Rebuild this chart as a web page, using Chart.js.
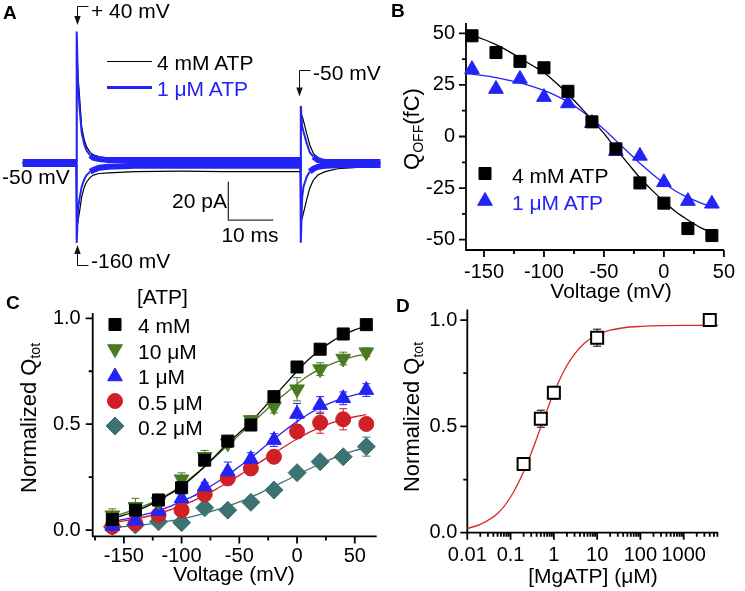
<!DOCTYPE html>
<html>
<head>
<meta charset="utf-8">
<script src="https://cdn.jsdelivr.net/npm/chart.js@4.4.1/dist/chart.umd.min.js"></script>
<style>
  body { margin: 0; background: #fff; }
  #fig { position: relative; width: 745px; height: 591px; overflow: hidden; font-family: "Liberation Sans", Arial, sans-serif; color: #000; }
  #fig canvas { position: absolute; left: 0; top: 0; }
  .t { position: absolute; white-space: nowrap; font-size: 21px; line-height: 1; transform: translateY(-50%); }
  .c { transform: translate(-50%, -50%); }
  .r { transform: translate(-100%, -50%); }
  .v { transform: translate(-50%, -50%) rotate(-90deg); font-size: 22px; }
  .p { font-weight: bold; font-size: 19px; }
  .blue { color: #2323f5; }
  sub { font-size: 14px; vertical-align: -4px; line-height: 0; }
</style>
</head>
<body>
<div id="fig">
  <canvas id="chartA" width="745" height="591"></canvas>
  <canvas id="chartB" width="745" height="591"></canvas>
  <canvas id="chartC" width="745" height="591"></canvas>
  <canvas id="chartD" width="745" height="591"></canvas>

  <div class="t p" style="left:3px;top:11.5px">A</div>
  <div class="t p" style="left:391px;top:10px">B</div>
  <div class="t p" style="left:6px;top:301.5px">C</div>
  <div class="t p" style="left:396px;top:305px">D</div>

  <!-- panel A -->
  <div class="t" style="left:91px;top:9.5px">+ 40 mV</div>
  <div class="t" style="left:91px;top:260px">-160 mV</div>
  <div class="t" style="left:313px;top:72px">-50 mV</div>
  <div class="t" style="left:2px;top:176px">-50 mV</div>
  <div class="t" style="left:157px;top:62px">4 mM ATP</div>
  <div class="t blue" style="left:157px;top:88px">1 μM ATP</div>
  <div class="t r" style="left:227px;top:200px">20 pA</div>
  <div class="t c" style="left:250px;top:234px">10 ms</div>

  <!-- panel B -->
  <div class="t" style="left:512px;top:175px">4 mM ATP</div>
  <div class="t blue" style="left:512px;top:202px">1 μM ATP</div>
  <div class="t c" style="left:611px;top:290px">Voltage (mV)</div>
  <div class="t v" style="left:412px;top:129px">Q<sub>OFF</sub>(fC)</div>

  <!-- panel C -->
  <div class="t" style="left:137px;top:295.5px">[ATP]</div>
  <div class="t" style="left:138px;top:325px">4 mM</div>
  <div class="t" style="left:138px;top:351px">10 μM</div>
  <div class="t" style="left:138px;top:376px">1 μM</div>
  <div class="t" style="left:138px;top:401.5px">0.5 μM</div>
  <div class="t" style="left:138px;top:426.5px">0.2 μM</div>
  <div class="t c" style="left:234px;top:573px">Voltage (mV)</div>
  <div class="t v" style="left:29px;top:418px">Normalized Q<sub>tot</sub></div>

  <!-- panel D -->
  <div class="t c" style="left:593px;top:575px">[MgATP] (μM)</div>
  <div class="t v" style="left:412px;top:417px">Normalized Q<sub>tot</sub></div>
</div>

<script>
// ---------- panel A: current traces (time in ms, current in pA) ----------
const traceTime = [0, 11.9, 12.0, 12.3, 12.6, 13.1, 13.7, 14.2, 15, 15.7, 17, 19, 25, 35, 45, 55, 61.7, 61.8, 62.1, 62.4, 63.1, 63.8, 64.6, 65.6, 67.2, 70, 75, 79.5];
const blue40    = [0.5, 0.5, 68.6, 40, 30, 16, 9.5, 6.5, 4, 2.8, 2, 1.5, 1.5, 1.5, 1.5, 1.5, 1.5, -41.6, -18, -12.4, -7.3, -4.5, -3, -2, -1.5, -1.2, -1, -1];
const blueM160  = [-0.5, -0.5, -41.8, -24, -19, -12.5, -8.5, -6.3, -4.5, -3.7, -2.5, -2, -1.5, -1.5, -1.5, -1.5, -1.5, 29.8, 19, 16.3, 10.5, 5.5, 3.3, 1.5, 0.5, 0.5, 0.5, 0.5];
const black40   = [0, 0, 60, 45, 36, 18.8, 12, 8.4, 5.5, 4.2, 3.2, 2.6, 2, 2, 2, 2, 2, -29.8, -29, -26, -19.3, -13, -8.9, -6.3, -4.5, -3, -2.2, -2];
const blackM160 = [0, 0, -35, -30, -26, -17.8, -12.5, -9.9, -7.5, -6.3, -5.5, -5.2, -4.5, -4.3, -4.5, -4.5, -4.5, 25, 24.5, 22, 15.5, 9.4, 5, 1.6, 0.5, 0.5, 0.5, 0.5];
const scaleBarT = [45.7, 45.7, 55.7];
const scaleBarI = [-9.8, -29.8, -29.8];
const pulseOn = 12, pulseOff = 61.8;

// ---------- panel B: Q_OFF vs voltage ----------
const voltB = [-160, -140, -120, -100, -80, -60, -40, -20, 0, 20, 40];
const qOff4mM = [48.8, 40.7, 36.4, 33.3, 21.9, 7.1, -6.0, -22.5, -32.3, -44.6, -48.0];
const qOff1uM = [32.6, 23, 27.9, 19.1, 16, 6.5, -7.1, -9.4, -22.2, -31.3, -32.6];
const fitVoltB = [-165, -160, -150, -140, -130, -120, -110, -100, -90, -80, -70, -60, -50, -40, -30, -20, -10, 0, 10, 20, 30, 40];
const fitB4mM = [49.5, 49, 47, 44.5, 41.5, 38, 34.5, 31, 26, 20.5, 14.5, 8, 1.5, -6, -13, -20, -26, -31.5, -36.5, -40.5, -44, -46.5];
const fitB1uM = [30.5, 30.2, 29.5, 28.5, 27.3, 26, 24.3, 22.3, 19.8, 16.8, 13, 8.5, 3.5, -2, -7.5, -13, -18, -22.5, -26.5, -29.5, -32, -34];

// ---------- panel C: normalized Q_tot vs voltage ----------
const voltC = [-160, -140, -120, -100, -80, -60, -40, -20, 0, 20, 40, 60];
const q4mM  = [0.05, 0.094, 0.142, 0.2, 0.33, 0.42, 0.496, 0.63, 0.77, 0.854, 0.926, 0.97];
const q10uM = [0.07, 0.11, 0.134, 0.24, 0.346, 0.41, 0.52, 0.583, 0.665, 0.76, 0.81, 0.84];
const q1uM  = [0.019, 0.044, 0.09, 0.15, 0.205, 0.276, 0.335, 0.425, 0.548, 0.59, 0.622, 0.661];
const q05uM = [0.016, 0.031, 0.071, 0.094, 0.168, 0.244, 0.291, 0.346, 0.465, 0.507, 0.523, 0.501];
const q02uM = [0.016, 0.024, 0.039, 0.035, 0.105, 0.094, 0.131, 0.189, 0.271, 0.323, 0.346, 0.394];
const e4mM  = [0.01, 0.02, 0.01, 0.02, 0.02, 0.015, 0.02, 0.02, 0.015, 0.015, 0.015, 0.01];
const e10uM = [0.03, 0.04, 0.02, 0.03, 0.03, 0.02, 0.02, 0.03, 0.055, 0.03, 0.03, 0.02];
const e1uM  = [0.015, 0.02, 0.02, 0.02, 0.02, 0.045, 0.03, 0.03, 0.05, 0.04, 0.03, 0.03];
const e05uM = [0.015, 0.02, 0.02, 0.03, 0.02, 0.03, 0.03, 0.03, 0.03, 0.05, 0.05, 0.02];
const e02uM = [0.01, 0.01, 0.01, 0.01, 0.015, 0.015, 0.015, 0.015, 0.02, 0.02, 0.02, 0.045];
const fitVoltC = [-160, -150, -140, -130, -120, -110, -100, -90, -80, -70, -60, -50, -40, -30, -20, -10, 0, 10, 20, 30, 40, 50, 60];
const fitC4mM  = [0.055, 0.07, 0.09, 0.112, 0.14, 0.17, 0.205, 0.25, 0.3, 0.355, 0.41, 0.46, 0.51, 0.57, 0.63, 0.69, 0.75, 0.805, 0.85, 0.89, 0.92, 0.945, 0.965];
const fitC10uM = [0.065, 0.08, 0.1, 0.12, 0.145, 0.175, 0.21, 0.255, 0.3, 0.35, 0.4, 0.45, 0.5, 0.55, 0.6, 0.645, 0.69, 0.73, 0.76, 0.785, 0.805, 0.82, 0.83];
const fitC1uM  = [0.04, 0.05, 0.062, 0.076, 0.092, 0.112, 0.135, 0.16, 0.19, 0.223, 0.26, 0.3, 0.34, 0.385, 0.43, 0.472, 0.512, 0.548, 0.578, 0.603, 0.623, 0.638, 0.65];
const fitC05uM = [0.035, 0.043, 0.053, 0.064, 0.078, 0.095, 0.115, 0.138, 0.164, 0.193, 0.225, 0.258, 0.293, 0.328, 0.363, 0.397, 0.43, 0.46, 0.485, 0.506, 0.522, 0.535, 0.545];
const fitC02uM = [0.012, 0.016, 0.021, 0.027, 0.034, 0.043, 0.053, 0.065, 0.079, 0.095, 0.113, 0.133, 0.155, 0.18, 0.206, 0.233, 0.26, 0.287, 0.312, 0.336, 0.357, 0.375, 0.39];

// ---------- panel D: Q_tot vs [MgATP] ----------
const mgAtp = [0.2, 0.5, 1, 10, 4000];
const qNormD = [0.323, 0.536, 0.658, 0.917, 1.0];
const eD = [0.015, 0.04, 0.03, 0.04, 0];
const fitMgAtp = [0.01, 0.02, 0.05, 0.1, 0.2, 0.3, 0.5, 0.7, 1, 2, 3, 5, 10, 20, 50, 100, 1000, 6300];
const fitQD = [0.02, 0.039, 0.09, 0.168, 0.287, 0.375, 0.497, 0.578, 0.659, 0.786, 0.84, 0.89, 0.93, 0.952, 0.966, 0.97, 0.975, 0.975];

// tick positions
const voltLabels = [-150, -100, -50, 0, 50];
const bVoltMinor = [-125, -75, -25, 25];
const cVoltMinor = [-175, -125, -75, -25, 25];
const qOffLabels = [-50, -25, 0, 25, 50];
const qOffMinor = [-37.5, -12.5, 12.5, 37.5];
const normLabels = [0, 0.5, 1.0];
const normMinor = [0.25, 0.75];
const decades = [0.01, 0.1, 1, 10, 100, 1000];
const decadeMinor = [];
decades.forEach(d => { for (let k = 2; k <= 9; k++) if (d * k < 6300) decadeMinor.push(d * k); });

const BLUE = '#2323f5', GREEN = '#4a7a22', RED = '#d02025', TEAL = '#3d7272';

Chart.defaults.font.family = '"Liberation Sans", Arial, sans-serif';
Chart.defaults.font.size = 20;
Chart.defaults.color = '#000';
Chart.defaults.animation = false;

const pts = (xs, ys) => xs.map((x, i) => ({ x, y: ys[i] }));

function trace(vals, color, noisy, order) {
  const ds = { data: pts(traceTime, vals), showLine: true, borderColor: color, pointRadius: 0,
    borderWidth: noisy ? 2 : 1.2, order, clip: false };
  if (noisy) ds.segment = { borderWidth: c =>
    (Math.abs(vals[c.p0DataIndex]) < 5 && Math.abs(vals[c.p1DataIndex]) < 5) ? 6 : 2 };
  return ds;
}
function marks(xs, ys, color, style, r, errs, order, rot) {
  return { data: pts(xs, ys), errors: errs, backgroundColor: color, borderColor: color,
    pointStyle: style, pointRadius: r, pointRotation: rot || 0, pointBorderWidth: 1, order, clip: false };
}
function fit(xs, ys, color) {
  return { data: pts(xs, ys), showLine: true, borderColor: color, borderWidth: 1.3, pointRadius: 0,
    cubicInterpolationMode: 'monotone', order: 10, clip: false };
}
function axis(type, min, max, labels, fmt, pad, isY) {
  return {
    type, min, max,
    grid: { display: false, drawTicks: false },
    border: { display: false },
    ticks: { autoSkip: false, maxRotation: 0, padding: pad, callback: fmt },
    afterBuildTicks: s => { s.ticks = labels.map(v => ({ value: v })); },
    afterFit: s => { if (isY) s.width = 40; else s.height = 30; }
  };
}
function arrow(ctx, x, yStart, yTip) {
  const dir = yTip > yStart ? 1 : -1;
  ctx.beginPath(); ctx.moveTo(x + 11, yStart); ctx.lineTo(x, yStart); ctx.lineTo(x, yTip - dir * 6); ctx.stroke();
  ctx.beginPath(); ctx.moveTo(x - 3.2, yTip - dir * 9); ctx.lineTo(x + 3.2, yTip - dir * 9); ctx.lineTo(x, yTip); ctx.closePath(); ctx.fill();
}

const annotA = {
  id: 'annotA',
  afterDatasetsDraw(chart) {
    const { ctx, scales: { x } } = chart;
    const xOn = Math.round(x.getPixelForValue(pulseOn)) + 0.5;
    const xOff = Math.round(x.getPixelForValue(pulseOff)) - 1.5;
    ctx.save();
    ctx.strokeStyle = '#111'; ctx.fillStyle = '#111'; ctx.lineWidth = 1;
    arrow(ctx, xOn, 6.5, 25);
    arrow(ctx, xOn, 265.5, 245);
    arrow(ctx, xOff, 70.5, 96.5);
    ctx.beginPath(); ctx.moveTo(107, 61.5); ctx.lineTo(152, 61.5); ctx.strokeStyle = '#000'; ctx.stroke();
    ctx.beginPath(); ctx.moveTo(107, 87.5); ctx.lineTo(152, 87.5); ctx.lineWidth = 3; ctx.strokeStyle = BLUE; ctx.stroke();
    ctx.restore();
  }
};

function deco(tk, legendMarks) {
  return {
    id: 'deco',
    beforeDatasetsDraw(chart) {
      const { ctx, chartArea: a, scales: { x, y } } = chart;
      ctx.save();
      ctx.strokeStyle = '#000'; ctx.lineWidth = 1.8;
      ctx.beginPath();
      ctx.moveTo(a.left, a.top); ctx.lineTo(a.left, a.bottom); ctx.lineTo(a.right, a.bottom);
      const tick = (list, len, horiz) => list.forEach(v => {
        const p = (horiz ? x : y).getPixelForValue(v);
        if (horiz) { ctx.moveTo(p, a.bottom); ctx.lineTo(p, a.bottom + len); }
        else { ctx.moveTo(a.left, p); ctx.lineTo(a.left - len, p); }
      });
      tick(tk.xMajor, 7, true); tick(tk.xMinor, 4, true);
      tick(tk.yMajor, 7, false); tick(tk.yMinor, 4, false);
      ctx.stroke();
      chart.data.datasets.forEach(ds => {
        if (!ds.errors) return;
        ctx.strokeStyle = ds.borderColor; ctx.lineWidth = 1;
        ctx.beginPath();
        ds.data.forEach((d, j) => {
          const e = ds.errors[j]; if (!e) return;
          const px = x.getPixelForValue(d.x), y1 = y.getPixelForValue(d.y + e), y2 = y.getPixelForValue(d.y - e);
          ctx.moveTo(px, y1); ctx.lineTo(px, y2);
          ctx.moveTo(px - 4, y1); ctx.lineTo(px + 4, y1);
          ctx.moveTo(px - 4, y2); ctx.lineTo(px + 4, y2);
        });
        ctx.stroke();
      });
      ctx.restore();
    },
    afterDatasetsDraw(chart) {
      const ctx = chart.ctx;
      legendMarks.forEach(m => {
        ctx.save();
        ctx.fillStyle = m.color; ctx.strokeStyle = m.color; ctx.lineWidth = 1;
        Chart.helpers.drawPoint(ctx, { pointStyle: m.style, radius: m.r, rotation: m.rot || 0, borderWidth: 1 }, m.x, m.y);
        ctx.restore();
      });
    }
  };
}

const baseOpts = (padding, scales) => ({
  responsive: false, events: [],
  layout: { autoPadding: false, padding },
  scales,
  plugins: { legend: { display: false }, tooltip: { enabled: false } }
});

// ---------- A ----------
new Chart(document.getElementById('chartA'), {
  type: 'scatter',
  data: { datasets: [
    trace(blue40, BLUE, true, 1),
    trace(blueM160, BLUE, true, 1),
    trace(black40, '#000', false, 2),
    trace(blackM160, '#000', false, 2),
    { data: pts(scaleBarT, scaleBarI), showLine: true, borderColor: '#333', borderWidth: 1.3, pointRadius: 0, order: 3 }
  ] },
  options: baseOpts({ left: 0, top: 0, right: 365, bottom: 311 }, {
    x: { type: 'linear', display: false, min: -5.04, max: 79.4 },
    y: { type: 'linear', display: false, min: -61.1, max: 85.1 }
  }),
  plugins: [annotA]
});

// ---------- B ----------
new Chart(document.getElementById('chartB'), {
  type: 'scatter',
  data: { datasets: [
    marks(voltB, qOff4mM, '#000', 'rect', 8.5, null, 1),
    marks(voltB, qOff1uM, BLUE, 'triangle', 8.5, null, 2),
    fit(fitVoltB, fitB4mM, '#000'),
    fit(fitVoltB, fitB1uM, BLUE)
  ] },
  options: baseOpts({ left: 426, top: 12.5, right: 12, bottom: 311 }, {
    x: axis('linear', -165, 50, voltLabels, v => String(v), 10, false),
    y: axis('linear', -55, 55, qOffLabels, v => String(v), 11, true)
  }),
  plugins: [deco({ xMajor: voltLabels, xMinor: bVoltMinor, yMajor: qOffLabels, yMinor: qOffMinor }, [
    { style: 'rect', r: 8.5, color: '#000', x: 485, y: 173.5 },
    { style: 'triangle', r: 8.5, color: BLUE, x: 485, y: 201 }
  ])]
});

// ---------- C ----------
new Chart(document.getElementById('chartC'), {
  type: 'scatter',
  data: { datasets: [
    marks(voltC, q4mM, '#000', 'rect', 8.5, e4mM, 1),
    marks(voltC, q10uM, GREEN, 'triangle', 8.5, e10uM, 2, 180),
    marks(voltC, q1uM, BLUE, 'triangle', 8.5, e1uM, 3),
    marks(voltC, q05uM, RED, 'circle', 7.5, e05uM, 4),
    marks(voltC, q02uM, TEAL, 'rectRot', 9, e02uM, 5),
    fit(fitVoltC, fitC4mM, '#000'),
    fit(fitVoltC, fitC10uM, GREEN),
    fit(fitVoltC, fitC1uM, BLUE),
    fit(fitVoltC, fitC05uM, RED),
    fit(fitVoltC, fitC02uM, TEAL)
  ] },
  options: baseOpts({ left: 52.7, top: 313, right: 368.3, bottom: 24.6 }, {
    x: axis('linear', -177, 69, voltLabels, v => String(v), 8, false),
    y: axis('linear', -0.03, 1.025, normLabels, v => v.toFixed(1), 12, true)
  }),
  plugins: [deco({ xMajor: voltLabels, xMinor: cVoltMinor, yMajor: normLabels, yMinor: normMinor }, [
    { style: 'rect', r: 8.5, color: '#000', x: 115, y: 324.5 },
    { style: 'triangle', r: 8.5, color: GREEN, x: 115, y: 349, rot: 180 },
    { style: 'triangle', r: 8.5, color: BLUE, x: 115, y: 376.5 },
    { style: 'circle', r: 7.5, color: RED, x: 115, y: 401 },
    { style: 'rectRot', r: 9, color: TEAL, x: 115, y: 426 }
  ])]
});

// ---------- D ----------
const dMarks = marks(mgAtp, qNormD, '#fff', 'rect', 8.5, eD, 1);
dMarks.borderColor = '#000'; dMarks.pointBorderWidth = 2;
new Chart(document.getElementById('chartD'), {
  type: 'scatter',
  data: { datasets: [ dMarks, fit(fitMgAtp, fitQD, '#d42a2a') ] },
  options: baseOpts({ left: 427.3, top: 309.4, right: 26.7, bottom: 28.3 }, {
    x: axis('logarithmic', 0.01, 6300, decades, v => String(v), 11, false),
    y: axis('linear', 0, 1.05, normLabels, v => v.toFixed(1), 10, true)
  }),
  plugins: [deco({ xMajor: decades, xMinor: decadeMinor, yMajor: normLabels, yMinor: normMinor }, [])]
});
</script>
</body>
</html>
